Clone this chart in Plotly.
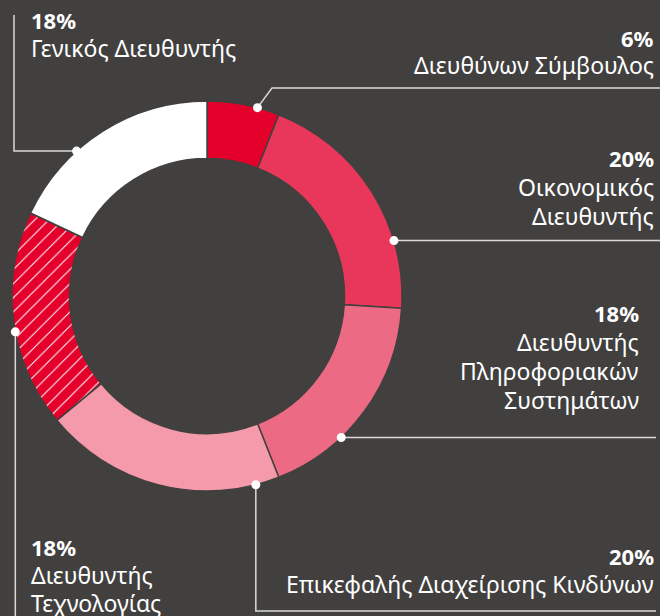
import math
import plotly.graph_objects as go

# ---- data ----
roles = ["Διευθύνων Σύμβουλος", "Οικονομικός Διευθυντής",
         "Διευθυντής Πληροφοριακών Συστημάτων", "Επικεφαλής Διαχείρισης Κινδύνων",
         "Διευθυντής Τεχνολογίας", "Γενικός Διευθυντής"]
shares = [6, 20, 18, 20, 18, 18]
pct_labels = ["6%", "20%", "18%", "20%", "18%", "18%"]
label_lines = [["Διευθύνων Σύμβουλος"],
               ["Οικονομικός", "Διευθυντής"],
               ["Διευθυντής", "Πληροφοριακών", "Συστημάτων"],
               ["Επικεφαλής Διαχείρισης Κινδύνων"],
               ["Διευθυντής", "Τεχνολογίας"],
               ["Γενικός Διευθυντής"]]

# ---- style ----
W, H = 660, 616
BG = "#42403f"
colors = ["#e4002b", "#e8375a", "#ed6a84", "#f49aab", "#e4002b", "#ffffff"]
patterns = ["", "", "", "", "/", ""]
FONT = "Noto Sans"
LINE_COL = "#d9d9d9"
FS = 23

cx, cy, R = 207, 296, 195   # pixel geometry of the donut

fig = go.Figure(go.Pie(
    labels=roles, values=shares, sort=False, direction="clockwise", rotation=0,
    hole=0.705, textinfo="none", hoverinfo="label+percent",
    marker=dict(colors=colors, line=dict(color=BG, width=1.5),
                pattern=dict(shape=patterns, fgcolor="#ffffff", bgcolor="#e4002b",
                             size=10, solidity=0.1, fillmode="replace")),
    domain=dict(x=[(cx - R) / W, (cx + R) / W], y=[1 - (cy + R) / H, 1 - (cy - R) / H]),
    showlegend=False,
))

def px(x):
    return x / W

def py(y):
    return 1 - y / H

# leader angles (degrees clockwise from 12 o'clock) where the dots sit
leader_angles = [15, 73.5, 136.5, 165.5, 259.4, 318]
dots = []
for a in leader_angles:
    r = math.radians(a)
    dots.append((cx + R * math.sin(r), cy - R * math.cos(r)))

paths = [
    [dots[0], (272, 88), (660, 88)],
    [dots[1], (660, dots[1][1])],
    [dots[2], (656, dots[2][1])],
    [dots[3], (dots[3][0], 611), (656, 611)],
    [dots[4], (dots[4][0], 620)],
    [dots[5], (14, dots[5][1]), (14, 15)],
]
shapes = []
for p in paths:
    d = "M " + " L ".join(f"{px(x):.5f},{py(y):.5f}" for x, y in p)
    shapes.append(dict(type="path", path=d, xref="paper", yref="paper",
                       line=dict(color=LINE_COL, width=1.5)))
for x, y in dots:
    rr = 4.5
    shapes.append(dict(type="circle", xref="paper", yref="paper",
                       x0=px(x - rr), x1=px(x + rr), y0=py(y + rr), y1=py(y - rr),
                       fillcolor="#ffffff", line=dict(width=0)))

# text blocks: (anchor x, align, y of pct line, line step)
blocks = [
    (656, "right", 38, 27),
    (656, "right", 158, 29),
    (641, "right", 313, 29),
    (656, "right", 556, 28),
    (29, "left", 547, 28),
    (29, "left", 20, 28),
]
ann = []
for (x, al, y0, step), pct, lines in zip(blocks, pct_labels, label_lines):
    xa = "right" if al == "right" else "left"
    ann.append(dict(x=px(x), y=py(y0), xref="paper", yref="paper", xanchor=xa,
                    yanchor="middle", showarrow=False, text=f"<b>{pct}</b>",
                    font=dict(family=FONT, size=FS - 1, color="#ffffff")))
    for i, ln in enumerate(lines):
        ann.append(dict(x=px(x), y=py(y0 + step * (i + 1)), xref="paper", yref="paper",
                        xanchor=xa, yanchor="middle", showarrow=False, text=ln,
                        font=dict(family=FONT, size=FS, color="#ffffff")))

fig.update_layout(width=W, height=H, margin=dict(l=0, r=0, t=0, b=0),
                  paper_bgcolor=BG, plot_bgcolor=BG, shapes=shapes, annotations=ann)
fig.write_html("out.html", config={"displayModeBar": False},
               post_script="document.body.style.margin='0';document.body.style.overflow='hidden';")
